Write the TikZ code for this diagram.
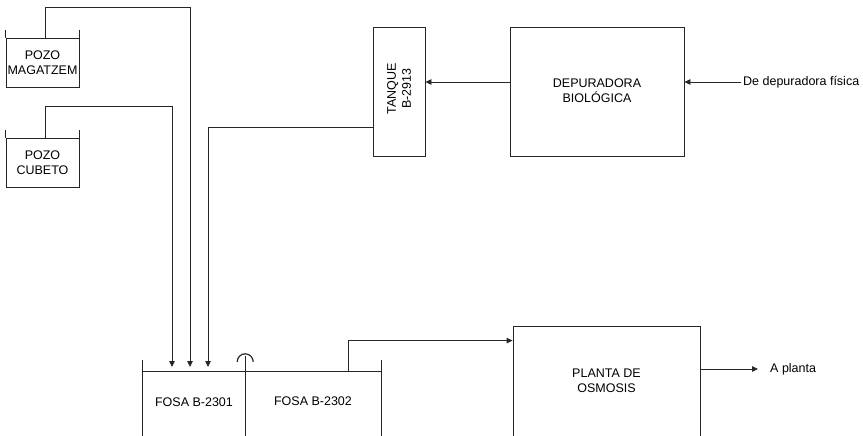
\documentclass[tikz,border=0pt]{standalone}
\usepackage{fontspec}
\setmainfont{Liberation Sans}
\usetikzlibrary{positioning,arrows.meta}
\tikzset{
  box/.style={draw=black!85, line width=0.8pt, align=center, inner sep=0pt,
    font=\fontsize{12.5}{15}\selectfont},
  pozo/.style={box, minimum width=73pt, minimum height=49pt},
  fosa/.style={inner sep=0pt, minimum height=64pt, font=\fontsize{12.5}{15}\selectfont},
  txt/.style={font=\fontsize{12.5}{15}\selectfont, align=center, inner sep=2pt},
  pipe/.style={draw=black!85, line width=0.8pt},
  flow/.style={pipe, -{Triangle[length=6pt, width=5.5pt]}},
}
\begin{document}
\begin{tikzpicture}[x=1pt, y=-1pt]
  \useasboundingbox (0,0) rectangle (863,436);
  \clip (0,0) rectangle (863,436);
  % pozos
  \node[pozo] (mag) at (42.5,62.5) {POZO\\MAGATZEM};
  \node[pozo] (cub) at (42.5,163) {POZO\\CUBETO};
  \foreach \p in {mag,cub} {
    \draw[pipe] ([yshift=8pt]\p.north west) -- (\p.north west);
    \draw[pipe] ([yshift=8pt]\p.north east) -- (\p.north east);
  }
  % tanque y depuradora
  \node[box, minimum width=52pt, minimum height=129pt] (tanque) at (399,91.5) {};
  \node[txt, rotate=90] (tanquetxt) at ([yshift=3pt]tanque.center) {TANQUE\\B-2913};
  \node[box, minimum width=174pt, minimum height=129pt] (depu) at (597,91.5) {\raisebox{2pt}{DEPURADORA}\\\raisebox{2pt}{BIOLÓGICA}};
  \node[txt, anchor=west] (fisica) at (741,82) {De depuradora física};
  % fosas
  \node[fosa, minimum width=102pt] (fosaA) at (194,404) {\raisebox{3pt}{FOSA B-2301}};
  \node[fosa, minimum width=136pt] (fosaB) at (313,404) {\raisebox{6pt}{FOSA B-2302}};
  \draw[pipe] ([yshift=12pt]fosaA.north west) -- (fosaA.south west);
  \draw[pipe] (fosaA.north west) -- (fosaB.north east);
  \draw[pipe] ([yshift=12pt]fosaB.north east) -- (fosaB.south east);
  \draw[pipe] ([yshift=16pt]fosaA.north east) -- (fosaA.south east);
  \draw[pipe, line width=1.2pt] ([xshift=-8pt, yshift=10pt]fosaA.north east) arc[start angle=180, end angle=0, radius=8pt];
  \coordinate (in1) at (172,367);
  \coordinate (in2) at (190,367);
  \coordinate (in3) at (208,367);
  % osmosis
  \node[box, minimum width=187pt, minimum height=114pt] (planta) at (606.5,383) {\raisebox{4pt}{PLANTA DE}\\\raisebox{4pt}{OSMOSIS}};
  \node[txt, anchor=west] (aplanta) at (768,369) {A planta};
  % flows
  \draw[flow] ([xshift=2.5pt]cub.north) -- ++(0,-32) -| (in1);
  \draw[flow] ([xshift=2.5pt]mag.north) -- ++(0,-30) -| (in2);
  \draw[flow] ([yshift=-35.5pt]tanque.west) -| (in3);
  \draw[flow] (fisica.west) -- (fisica.west -| depu.east);
  \draw[flow] ([yshift=9.5pt]depu.west) -- ([yshift=9.5pt]tanque.east);
  \draw[flow] ([xshift=35pt]fosaB.north) |- ([yshift=-15pt]planta.north west);
  \draw[flow, shorten >=10pt] ([yshift=14pt]planta.east) -- (aplanta.west);
\end{tikzpicture}
\end{document}
